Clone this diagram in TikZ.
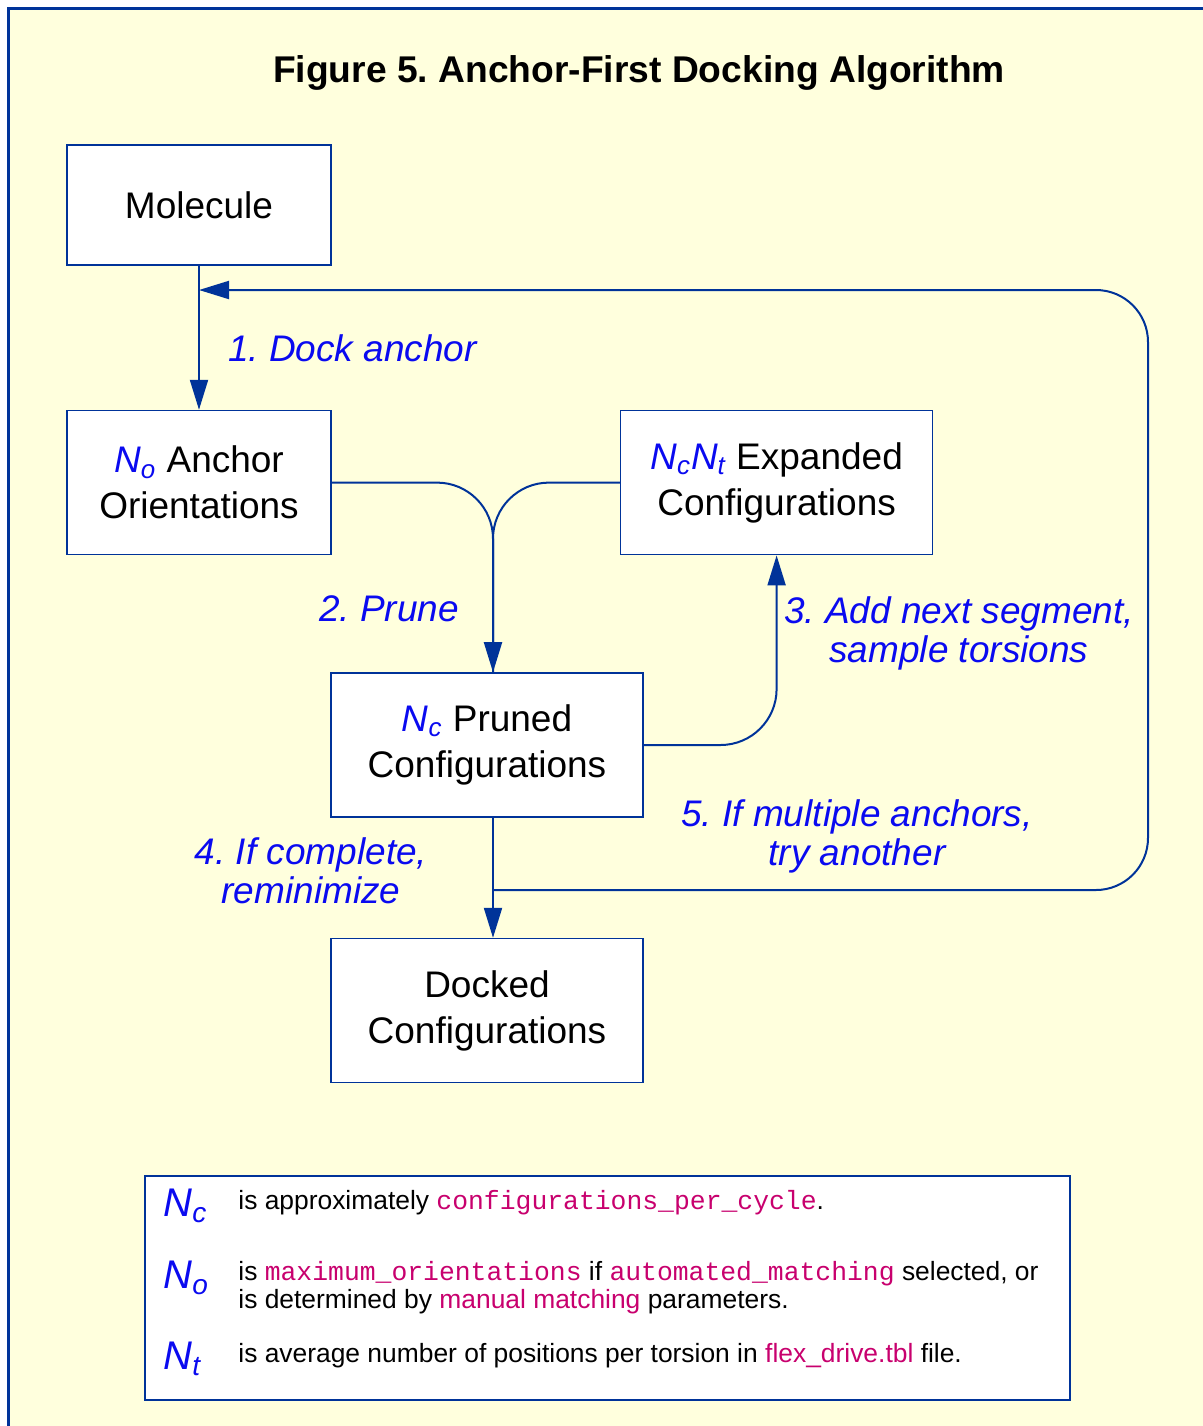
\documentclass[tikz,border=0pt]{standalone}
\usepackage{fontspec}
\setmainfont{Liberation Sans}
\setmonofont{Liberation Mono}
\usetikzlibrary{positioning,arrows.meta}

\definecolor{linecol}{RGB}{0,51,153}
\definecolor{labcol}{RGB}{10,10,240}
\definecolor{codecol}{RGB}{200,0,110}
\definecolor{bgcol}{RGB}{255,255,221}
\newcommand{\Nsym}[1]{{\color{labcol}\itshape N\textsubscript{#1}}}
\newcommand{\code}[1]{{\color{codecol}\ttfamily #1}}
\frenchspacing

\begin{document}
\begin{tikzpicture}[x=0.5pt,y=-0.5pt,
    box/.style={draw=linecol, line width=0.8pt, fill=white, align=center, inner sep=0pt,
                font=\fontsize{18.5}{23}\selectfont, minimum height=72pt, minimum width=156pt},
    flow/.style={draw=linecol, line width=1pt, -{Triangle[length=15pt,width=9pt]}},
    steplabel/.style={text=labcol, align=center, font=\fontsize{18.5}{19.5}\selectfont\itshape},
    legtext/.style={anchor=west, align=left, inner sep=0pt, font=\fontsize{13.2}{14}\selectfont},
    legsym/.style={anchor=west, inner sep=0pt, font=\fontsize{20}{20}\selectfont},]
    \useasboundingbox (0,0) rectangle (1203,1426);
    \draw[linecol, line width=1.5pt, fill=bgcol] (8,8) rectangle (1215,1440);
    % title
    \node[font=\fontsize{18.6}{20}\selectfont\bfseries] (title) at (639,73) {Figure 5. Anchor-First Docking Algorithm};
    % nodes
    \node[box, minimum width=132pt, minimum height=60pt] (mol)   at (199,205)           {Molecule};
    \node[box, minimum width=132pt]                      (anchor) [below=72pt of mol]    {\Nsym{o} Anchor\\Orientations};
    \node[box]                                           (expand) [right=144pt of anchor] {\Nsym{c}\Nsym{t} Expanded\\Configurations};
    \node[box]                                           (pruned) at (487,745)           {\Nsym{c} Pruned\\Configurations};
    \node[box]                                           (docked) [below=60pt of pruned] {Docked\\Configurations};
    % junctions
    \coordinate (retin)  at (mol.south |- 0,290);
    \coordinate (retout) at ([xshift=3pt]pruned.south |- 0,890);
    % lines
    \draw[flow] (mol.south) -- (anchor.north);
    \draw[draw=linecol, line width=1pt, rounded corners=28pt] (expand.west) -| ([xshift=3pt]pruned.north);
    \draw[flow, rounded corners=28pt] (anchor.east) -| ([xshift=3pt]pruned.north);
    \draw[flow, rounded corners=28pt] (pruned.east) -| (expand.south);
    \draw[flow] ([xshift=3pt]pruned.south) -- ([xshift=3pt]docked.north);
    \draw[flow, rounded corners=26pt] (retout) -- (1148,890) -- (1148,290) -- (retin);
    % step labels
    \node[steplabel, anchor=west] (lab1) at (221,348) {1. Dock anchor};
    \node[steplabel, anchor=east] (lab2) at (466,609) {2. Prune};
    \node[steplabel]              (lab3) at (959,633) {3. Add next segment,\\sample torsions};
    \node[steplabel]              (lab4) at (311,871) {4. If complete,\\reminimize};
    \node[steplabel]              (lab5) at (857,836) {5. If multiple anchors,\\try another};
    % legend
    \node[draw=linecol, line width=0.8pt, fill=white, minimum width=462.5pt, minimum height=112pt] (legend) at (607.5,1288) {};
    \node[legsym] (symc) at (163,1206) {\Nsym{c}};
    \node[legsym] (symo) at (163,1278) {\Nsym{o}};
    \node[legsym] (symt) at (163,1359) {\Nsym{t}};
    \node[legtext] (txtc) at (238,1203) {is approximately \code{configurations\_per\_cycle}.};
    \node[legtext] (txto) at (238,1288) {is \code{maximum\_orientations} if \code{automated\_matching} selected, or\\is determined by {\color{codecol}manual matching} parameters.};
    \node[legtext] (txtt) at (238,1356) {is average number of positions per torsion in {\color{codecol}flex\_drive.tbl} file.};
\end{tikzpicture}
\end{document}
